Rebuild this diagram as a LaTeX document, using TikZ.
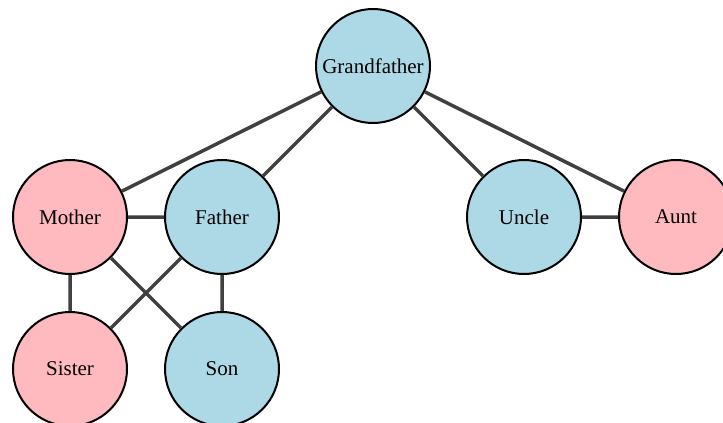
\documentclass[tikz,border=0pt]{standalone}
\usepackage{fontspec}
\setmainfont{Liberation Serif}
\definecolor{nodeblue}{HTML}{ADD8E6}
\definecolor{nodepink}{HTML}{FFBABF}
\definecolor{edgegray}{HTML}{404040}
\begin{document}
\begin{tikzpicture}[x=1pt,y=-1pt,
  person/.style={circle,draw=black,line width=2pt,minimum size=114pt,inner sep=0pt,font=\fontsize{21}{25}\selectfont},
  male/.style={person,fill=nodeblue},
  female/.style={person,fill=nodepink},
  rel/.style={draw=edgegray,line width=3.5pt}]
\clip (0,0) rectangle (723,423);
\useasboundingbox (0,0) rectangle (723,423);
\node[male] (gf) at (373,66) {Grandfather};
\node[female] (mo) at (70,217) {Mother};
\node[male] (fa) at (222,217) {Father};
\node[male] (un) at (524,217) {Uncle};
\node[female] (au) at (676,217) {Aunt};
\node[female] (si) at (70,369) {Sister};
\node[male] (so) at (222,369) {Son};
\path[rel] (gf) -- (mo) (gf) -- (fa) (gf) -- (un) (gf) -- (au)
  (mo) -- (fa) (un) -- (au) (mo) -- (si) (mo) -- (so) (fa) -- (si) (fa) -- (so);
\end{tikzpicture}
\end{document}
